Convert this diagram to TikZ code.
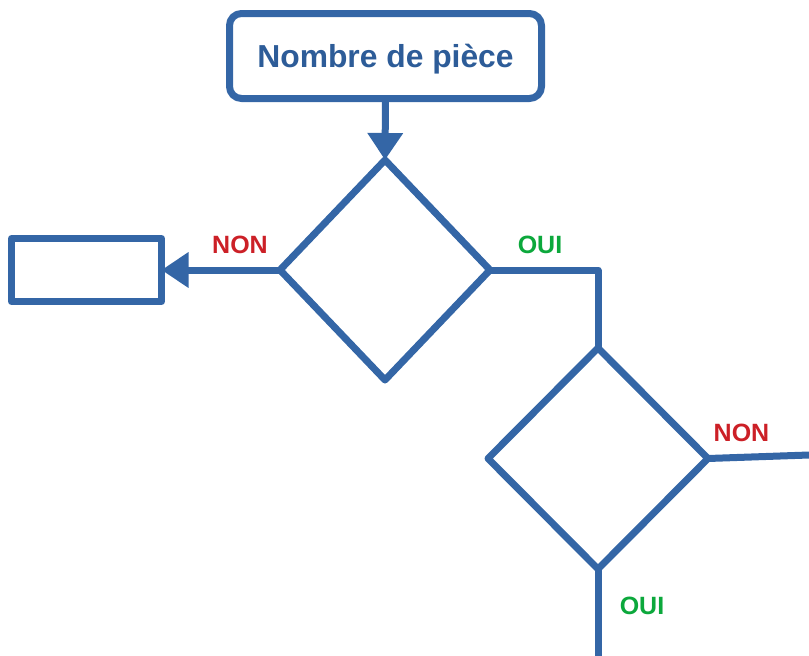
\documentclass[tikz,border=0pt]{standalone}
\usepackage{fontspec}
\setmainfont{Liberation Sans}
\usetikzlibrary{arrows.meta,shapes.geometric}
\definecolor{flowblue}{RGB}{52,102,166}
\definecolor{textblue}{RGB}{45,92,152}
\definecolor{nonred}{RGB}{204,32,39}
\definecolor{ouigreen}{RGB}{12,168,60}
\tikzset{
  flow/.style={draw=flowblue, line width=7pt, line join=round},
  box/.style={flow, rectangle, inner sep=0pt, outer sep=0pt},
  decision/.style={flow, diamond, inner sep=0pt, outer sep=0pt},
  conn/.style={draw=flowblue, line width=7pt, line join=round},
  arr/.style={conn, -{Triangle[width=34pt,length=27pt]}},
  lab/.style={font=\bfseries\fontsize{25}{30}\selectfont, inner sep=0pt},
}
\begin{document}
\begin{tikzpicture}[x=1pt,y=-1pt]
\useasboundingbox (0,0) rectangle (809,656);
\node[box, rounded corners=12pt, minimum width=312pt, minimum height=85pt,
      text=textblue, font=\bfseries\fontsize{31.8}{36}\selectfont,
      text height=22.8pt, text depth=0pt] (start) at (385.5,56) {Nombre de pièce};
\node[decision, minimum width=210pt, minimum height=220pt] (d1) at (385,270) {};
\node[box, minimum width=150pt, minimum height=63pt] (left) at (86.5,270) {};
\node[decision, minimum width=220pt, minimum height=221pt] (d2) at (598,458.5) {};
\coordinate (rightend) at (809,455);
\coordinate (bottomend) at (598,656);
\draw[arr] (start.south) -- (d1.north);
\draw[arr] (d1.west) -- (left.east);
\draw[conn] (d1.east) -| (d2.north);
\draw[conn] (d2.east) -- (rightend);
\draw[conn] (d2.south) -- (bottomend);
\node[lab, text=nonred] (non1) at (240,245) {NON};
\node[lab, text=ouigreen] (oui1) at (540,244.5) {OUI};
\node[lab, text=nonred] (non2) at (741.5,433) {NON};
\node[lab, text=ouigreen] (oui2) at (642,605.5) {OUI};
\end{tikzpicture}
\end{document}
